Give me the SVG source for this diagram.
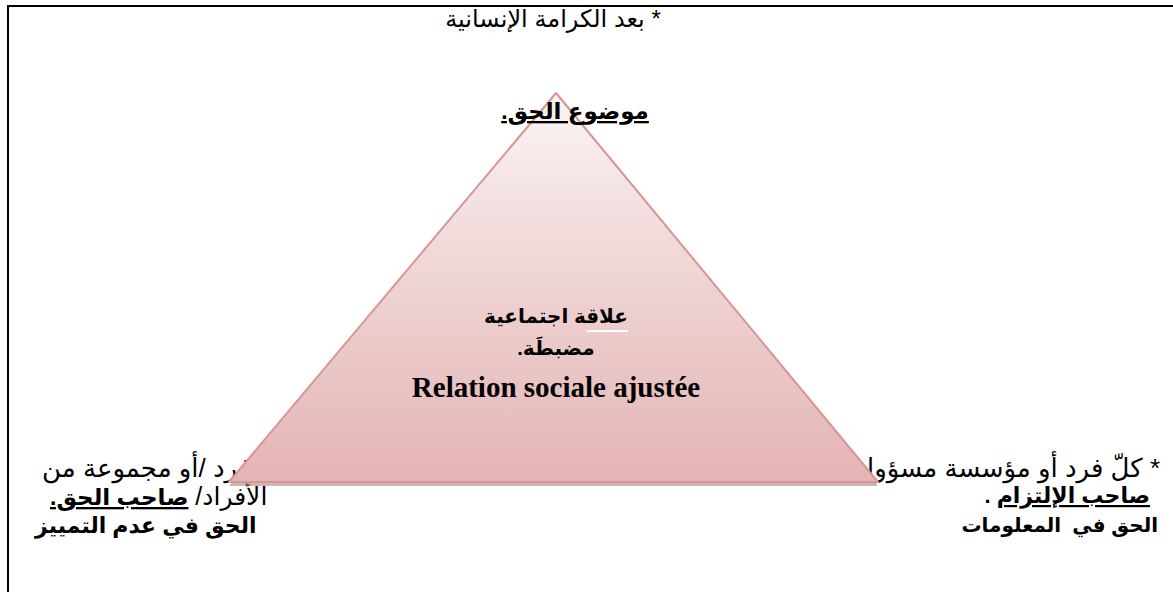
<svg xmlns="http://www.w3.org/2000/svg" width="1173" height="592" viewBox="0 0 1173 592">
<style>
.ar{font-family:"Liberation Sans","DejaVu Sans",sans-serif;font-size:24px;fill:#000;direction:rtl;unicode-bidi:embed}
.b{font-weight:bold;font-size:22px}
.u{text-decoration:underline}
.lat{font-family:"Liberation Serif",serif;font-weight:bold;font-size:29px;fill:#000}
</style>
<defs>
<linearGradient id="tg" x1="0" y1="0" x2="0" y2="1">
<stop offset="0" stop-color="#fbf4f4"/>
<stop offset="0.5" stop-color="#eed2d2"/>
<stop offset="1" stop-color="#e4b4b4"/>
</linearGradient>
</defs>
<rect width="1173" height="592" fill="#fff"/>
<path d="M8 600 V6 H1180" fill="none" stroke="#000" stroke-width="2"/>

<g id="left-node">
<text class="ar" x="42" y="477" text-anchor="end" style="font-size:26px">* كلّ فرد /أو مجموعة من</text>
<text class="ar" x="50" y="505" text-anchor="end" style="font-size:25px">الأفراد/ <tspan class="b u" style="font-size:23px">صاحب الحق.</tspan></text>
<text class="ar b" x="35" y="533" text-anchor="end">الحق في عدم التمييز</text>
</g>

<g id="right-node">
<text class="ar" x="1160" y="477" text-anchor="start" style="font-size:26px">* كلّ فرد أو مؤسسة مسؤولة</text>
<text class="ar b" x="1150" y="503" text-anchor="start"><tspan class="u">صاحب الإلتزام</tspan> .</text>
<text class="ar b" x="1158" y="532" text-anchor="start" style="white-space:pre;font-size:20px">الحق في  المعلومات</text>
</g>

<g id="triangle">
<polygon points="556,97 229,486 878,486" fill="#a07878" opacity="0.55"/>
<polygon points="556,93 229,482 878,482" fill="url(#tg)" stroke="#d99594" stroke-width="2" stroke-linejoin="round"/>
<text class="ar b" x="556" y="323" text-anchor="middle" style="font-size:20px">علاقة اجتماعية</text>
<line x1="587" y1="331" x2="628" y2="331" stroke="#fff" stroke-width="2"/>
<text class="ar b" x="556" y="355" text-anchor="middle" style="font-size:20px">مضبطَة.</text>
<text class="lat" x="556" y="397" text-anchor="middle">Relation sociale ajustée</text>
</g>

<g id="top-node">
<text class="ar" x="553" y="27" text-anchor="middle">* بعد الكرامة الإنسانية</text>
<text class="ar b u" x="575" y="119" text-anchor="middle" style="font-size:23px">موضوع الحق.</text>
</g>

<g id="connectors"></g>
</svg>
